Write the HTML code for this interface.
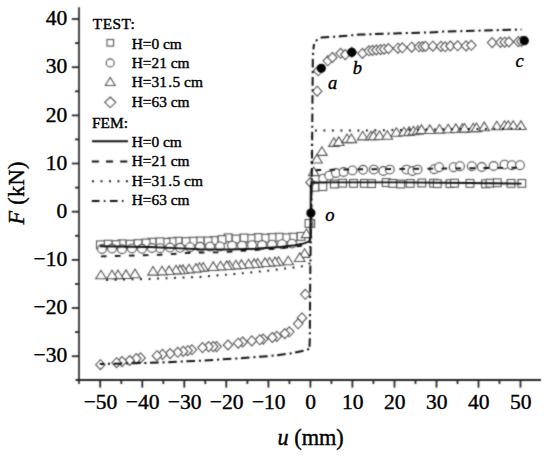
<!DOCTYPE html>
<html><head><meta charset="utf-8"><style>
html,body{margin:0;padding:0;background:#fff;}
body{width:550px;height:457px;overflow:hidden;}
svg{display:block;}
.t{font-family:"Liberation Serif",serif;fill:#000;stroke:#000;stroke-width:0.4px;}
.lg{stroke-width:0.4px;}
</style></head><body>
<svg width="550" height="457" viewBox="0 0 550 457">
<defs><filter id="bl" x="0" y="0" width="1" height="1" color-interpolation-filters="sRGB"><feConvolveMatrix order="3" kernelMatrix="1 2 1 2 10 2 1 2 1" edgeMode="duplicate"/></filter></defs>
<g filter="url(#bl)"><rect width="550" height="457" fill="#fff"/>
<line x1="79.0" y1="7.2" x2="79.0" y2="384" stroke="#333" stroke-width="1.8"/>
<line x1="75.5" y1="380.1" x2="541" y2="380.1" stroke="#262626" stroke-width="2"/>
<line x1="71.8" y1="356.2" x2="79.0" y2="356.2" stroke="#262626" stroke-width="1.8"/>
<line x1="75" y1="332.1" x2="79.0" y2="332.1" stroke="#262626" stroke-width="1.8"/>
<line x1="71.8" y1="308.0" x2="79.0" y2="308.0" stroke="#262626" stroke-width="1.8"/>
<line x1="75" y1="284.0" x2="79.0" y2="284.0" stroke="#262626" stroke-width="1.8"/>
<line x1="71.8" y1="259.9" x2="79.0" y2="259.9" stroke="#262626" stroke-width="1.8"/>
<line x1="75" y1="235.8" x2="79.0" y2="235.8" stroke="#262626" stroke-width="1.8"/>
<line x1="71.8" y1="211.7" x2="79.0" y2="211.7" stroke="#262626" stroke-width="1.8"/>
<line x1="75" y1="187.6" x2="79.0" y2="187.6" stroke="#262626" stroke-width="1.8"/>
<line x1="71.8" y1="163.5" x2="79.0" y2="163.5" stroke="#262626" stroke-width="1.8"/>
<line x1="75" y1="139.4" x2="79.0" y2="139.4" stroke="#262626" stroke-width="1.8"/>
<line x1="71.8" y1="115.4" x2="79.0" y2="115.4" stroke="#262626" stroke-width="1.8"/>
<line x1="75" y1="91.3" x2="79.0" y2="91.3" stroke="#262626" stroke-width="1.8"/>
<line x1="71.8" y1="67.2" x2="79.0" y2="67.2" stroke="#262626" stroke-width="1.8"/>
<line x1="75" y1="43.1" x2="79.0" y2="43.1" stroke="#262626" stroke-width="1.8"/>
<line x1="71.8" y1="19.0" x2="79.0" y2="19.0" stroke="#262626" stroke-width="1.8"/>
<line x1="100.2" y1="380.1" x2="100.2" y2="387.6" stroke="#262626" stroke-width="1.8"/>
<line x1="121.3" y1="380.1" x2="121.3" y2="384" stroke="#262626" stroke-width="1.8"/>
<line x1="142.3" y1="380.1" x2="142.3" y2="387.6" stroke="#262626" stroke-width="1.8"/>
<line x1="163.3" y1="380.1" x2="163.3" y2="384" stroke="#262626" stroke-width="1.8"/>
<line x1="184.3" y1="380.1" x2="184.3" y2="387.6" stroke="#262626" stroke-width="1.8"/>
<line x1="205.3" y1="380.1" x2="205.3" y2="384" stroke="#262626" stroke-width="1.8"/>
<line x1="226.3" y1="380.1" x2="226.3" y2="387.6" stroke="#262626" stroke-width="1.8"/>
<line x1="247.4" y1="380.1" x2="247.4" y2="384" stroke="#262626" stroke-width="1.8"/>
<line x1="268.4" y1="380.1" x2="268.4" y2="387.6" stroke="#262626" stroke-width="1.8"/>
<line x1="289.4" y1="380.1" x2="289.4" y2="384" stroke="#262626" stroke-width="1.8"/>
<line x1="310.4" y1="380.1" x2="310.4" y2="387.6" stroke="#262626" stroke-width="1.8"/>
<line x1="331.4" y1="380.1" x2="331.4" y2="384" stroke="#262626" stroke-width="1.8"/>
<line x1="352.4" y1="380.1" x2="352.4" y2="387.6" stroke="#262626" stroke-width="1.8"/>
<line x1="373.4" y1="380.1" x2="373.4" y2="384" stroke="#262626" stroke-width="1.8"/>
<line x1="394.5" y1="380.1" x2="394.5" y2="387.6" stroke="#262626" stroke-width="1.8"/>
<line x1="415.5" y1="380.1" x2="415.5" y2="384" stroke="#262626" stroke-width="1.8"/>
<line x1="436.5" y1="380.1" x2="436.5" y2="387.6" stroke="#262626" stroke-width="1.8"/>
<line x1="457.5" y1="380.1" x2="457.5" y2="384" stroke="#262626" stroke-width="1.8"/>
<line x1="478.5" y1="380.1" x2="478.5" y2="387.6" stroke="#262626" stroke-width="1.8"/>
<line x1="499.5" y1="380.1" x2="499.5" y2="384" stroke="#262626" stroke-width="1.8"/>
<line x1="520.5" y1="380.1" x2="520.5" y2="387.6" stroke="#262626" stroke-width="1.8"/>
<rect x="306.9" y="219.5" width="7.8" height="7.8" fill="#fff" stroke="#555" stroke-width="1.1"/>
<rect x="305.1" y="219.5" width="7.8" height="7.8" fill="#fff" stroke="#555" stroke-width="1.1"/>
<rect x="297.1" y="232.5" width="7.8" height="7.8" fill="#fff" stroke="#555" stroke-width="1.1"/>
<rect x="289.1" y="233.3" width="7.8" height="7.8" fill="#fff" stroke="#555" stroke-width="1.1"/>
<rect x="282.1" y="233.9" width="7.8" height="7.8" fill="#fff" stroke="#555" stroke-width="1.1"/>
<rect x="275.1" y="233.3" width="7.8" height="7.8" fill="#fff" stroke="#555" stroke-width="1.1"/>
<rect x="268.1" y="233.7" width="7.8" height="7.8" fill="#fff" stroke="#555" stroke-width="1.1"/>
<rect x="261.1" y="234.3" width="7.8" height="7.8" fill="#fff" stroke="#555" stroke-width="1.1"/>
<rect x="254.1" y="233.7" width="7.8" height="7.8" fill="#fff" stroke="#555" stroke-width="1.1"/>
<rect x="247.1" y="234.7" width="7.8" height="7.8" fill="#fff" stroke="#555" stroke-width="1.1"/>
<rect x="240.1" y="234.1" width="7.8" height="7.8" fill="#fff" stroke="#555" stroke-width="1.1"/>
<rect x="232.1" y="235.1" width="7.8" height="7.8" fill="#fff" stroke="#555" stroke-width="1.1"/>
<rect x="224.1" y="233.9" width="7.8" height="7.8" fill="#fff" stroke="#555" stroke-width="1.1"/>
<rect x="218.1" y="235.7" width="7.8" height="7.8" fill="#fff" stroke="#555" stroke-width="1.1"/>
<rect x="210.1" y="236.7" width="7.8" height="7.8" fill="#fff" stroke="#555" stroke-width="1.1"/>
<rect x="204.1" y="237.1" width="7.8" height="7.8" fill="#fff" stroke="#555" stroke-width="1.1"/>
<rect x="196.1" y="237.1" width="7.8" height="7.8" fill="#fff" stroke="#555" stroke-width="1.1"/>
<rect x="189.1" y="237.3" width="7.8" height="7.8" fill="#fff" stroke="#555" stroke-width="1.1"/>
<rect x="182.1" y="237.7" width="7.8" height="7.8" fill="#fff" stroke="#555" stroke-width="1.1"/>
<rect x="174.1" y="237.3" width="7.8" height="7.8" fill="#fff" stroke="#555" stroke-width="1.1"/>
<rect x="168.1" y="237.9" width="7.8" height="7.8" fill="#fff" stroke="#555" stroke-width="1.1"/>
<rect x="162.1" y="238.5" width="7.8" height="7.8" fill="#fff" stroke="#555" stroke-width="1.1"/>
<rect x="156.1" y="237.9" width="7.8" height="7.8" fill="#fff" stroke="#555" stroke-width="1.1"/>
<rect x="148.1" y="238.3" width="7.8" height="7.8" fill="#fff" stroke="#555" stroke-width="1.1"/>
<rect x="142.1" y="239.1" width="7.8" height="7.8" fill="#fff" stroke="#555" stroke-width="1.1"/>
<rect x="134.1" y="239.7" width="7.8" height="7.8" fill="#fff" stroke="#555" stroke-width="1.1"/>
<rect x="126.1" y="240.3" width="7.8" height="7.8" fill="#fff" stroke="#555" stroke-width="1.1"/>
<rect x="118.1" y="239.9" width="7.8" height="7.8" fill="#fff" stroke="#555" stroke-width="1.1"/>
<rect x="112.1" y="240.7" width="7.8" height="7.8" fill="#fff" stroke="#555" stroke-width="1.1"/>
<rect x="104.1" y="240.3" width="7.8" height="7.8" fill="#fff" stroke="#555" stroke-width="1.1"/>
<rect x="96.5" y="240.9" width="7.8" height="7.8" fill="#fff" stroke="#555" stroke-width="1.1"/>
<rect x="311.1" y="183.3" width="7.8" height="7.8" fill="#fff" stroke="#555" stroke-width="1.1"/>
<rect x="318.9" y="182.7" width="7.8" height="7.8" fill="#fff" stroke="#555" stroke-width="1.1"/>
<rect x="330.5" y="180.1" width="7.8" height="7.8" fill="#fff" stroke="#555" stroke-width="1.1"/>
<rect x="338.7" y="179.3" width="7.8" height="7.8" fill="#fff" stroke="#555" stroke-width="1.1"/>
<rect x="349.6" y="179.5" width="7.8" height="7.8" fill="#fff" stroke="#555" stroke-width="1.1"/>
<rect x="360.5" y="179.5" width="7.8" height="7.8" fill="#fff" stroke="#555" stroke-width="1.1"/>
<rect x="367.7" y="179.7" width="7.8" height="7.8" fill="#fff" stroke="#555" stroke-width="1.1"/>
<rect x="382.3" y="178.7" width="7.8" height="7.8" fill="#fff" stroke="#555" stroke-width="1.1"/>
<rect x="388.8" y="179.5" width="7.8" height="7.8" fill="#fff" stroke="#555" stroke-width="1.1"/>
<rect x="396.8" y="180.1" width="7.8" height="7.8" fill="#fff" stroke="#555" stroke-width="1.1"/>
<rect x="406.3" y="179.5" width="7.8" height="7.8" fill="#fff" stroke="#555" stroke-width="1.1"/>
<rect x="417.9" y="179.1" width="7.8" height="7.8" fill="#fff" stroke="#555" stroke-width="1.1"/>
<rect x="429.7" y="179.3" width="7.8" height="7.8" fill="#fff" stroke="#555" stroke-width="1.1"/>
<rect x="433.4" y="179.7" width="7.8" height="7.8" fill="#fff" stroke="#555" stroke-width="1.1"/>
<rect x="446.1" y="179.7" width="7.8" height="7.8" fill="#fff" stroke="#555" stroke-width="1.1"/>
<rect x="450.6" y="179.3" width="7.8" height="7.8" fill="#fff" stroke="#555" stroke-width="1.1"/>
<rect x="466.1" y="179.5" width="7.8" height="7.8" fill="#fff" stroke="#555" stroke-width="1.1"/>
<rect x="481.6" y="179.9" width="7.8" height="7.8" fill="#fff" stroke="#555" stroke-width="1.1"/>
<rect x="486.1" y="179.3" width="7.8" height="7.8" fill="#fff" stroke="#555" stroke-width="1.1"/>
<rect x="493.4" y="178.9" width="7.8" height="7.8" fill="#fff" stroke="#555" stroke-width="1.1"/>
<rect x="507.1" y="179.5" width="7.8" height="7.8" fill="#fff" stroke="#555" stroke-width="1.1"/>
<rect x="517.9" y="179.5" width="7.8" height="7.8" fill="#fff" stroke="#555" stroke-width="1.1"/>
<circle cx="292.0" cy="243.6" r="4.4" fill="#fff" stroke="#555" stroke-width="1.1"/>
<circle cx="282.0" cy="244.2" r="4.4" fill="#fff" stroke="#555" stroke-width="1.1"/>
<circle cx="272.0" cy="244.6" r="4.4" fill="#fff" stroke="#555" stroke-width="1.1"/>
<circle cx="262.0" cy="245.0" r="4.4" fill="#fff" stroke="#555" stroke-width="1.1"/>
<circle cx="252.0" cy="245.2" r="4.4" fill="#fff" stroke="#555" stroke-width="1.1"/>
<circle cx="242.0" cy="245.6" r="4.4" fill="#fff" stroke="#555" stroke-width="1.1"/>
<circle cx="232.0" cy="245.6" r="4.4" fill="#fff" stroke="#555" stroke-width="1.1"/>
<circle cx="220.0" cy="246.4" r="4.4" fill="#fff" stroke="#555" stroke-width="1.1"/>
<circle cx="210.0" cy="246.6" r="4.4" fill="#fff" stroke="#555" stroke-width="1.1"/>
<circle cx="200.0" cy="246.8" r="4.4" fill="#fff" stroke="#555" stroke-width="1.1"/>
<circle cx="190.0" cy="247.2" r="4.4" fill="#fff" stroke="#555" stroke-width="1.1"/>
<circle cx="180.0" cy="247.8" r="4.4" fill="#fff" stroke="#555" stroke-width="1.1"/>
<circle cx="170.0" cy="247.6" r="4.4" fill="#fff" stroke="#555" stroke-width="1.1"/>
<circle cx="160.0" cy="248.2" r="4.4" fill="#fff" stroke="#555" stroke-width="1.1"/>
<circle cx="152.0" cy="248.0" r="4.4" fill="#fff" stroke="#555" stroke-width="1.1"/>
<circle cx="142.0" cy="248.8" r="4.4" fill="#fff" stroke="#555" stroke-width="1.1"/>
<circle cx="132.0" cy="248.4" r="4.4" fill="#fff" stroke="#555" stroke-width="1.1"/>
<circle cx="122.0" cy="249.2" r="4.4" fill="#fff" stroke="#555" stroke-width="1.1"/>
<circle cx="112.0" cy="248.6" r="4.4" fill="#fff" stroke="#555" stroke-width="1.1"/>
<circle cx="102.0" cy="249.0" r="4.4" fill="#fff" stroke="#555" stroke-width="1.1"/>
<circle cx="323.2" cy="178.6" r="4.4" fill="#fff" stroke="#555" stroke-width="1.1"/>
<circle cx="329.2" cy="175.6" r="4.4" fill="#fff" stroke="#555" stroke-width="1.1"/>
<circle cx="336.0" cy="173.0" r="4.4" fill="#fff" stroke="#555" stroke-width="1.1"/>
<circle cx="343.6" cy="172.0" r="4.4" fill="#fff" stroke="#555" stroke-width="1.1"/>
<circle cx="352.4" cy="170.4" r="4.4" fill="#fff" stroke="#555" stroke-width="1.1"/>
<circle cx="363.1" cy="169.8" r="4.4" fill="#fff" stroke="#555" stroke-width="1.1"/>
<circle cx="373.8" cy="169.6" r="4.4" fill="#fff" stroke="#555" stroke-width="1.1"/>
<circle cx="383.3" cy="171.0" r="4.4" fill="#fff" stroke="#555" stroke-width="1.1"/>
<circle cx="389.8" cy="169.6" r="4.4" fill="#fff" stroke="#555" stroke-width="1.1"/>
<circle cx="406.5" cy="169.6" r="4.4" fill="#fff" stroke="#555" stroke-width="1.1"/>
<circle cx="412.4" cy="171.0" r="4.4" fill="#fff" stroke="#555" stroke-width="1.1"/>
<circle cx="417.5" cy="169.6" r="4.4" fill="#fff" stroke="#555" stroke-width="1.1"/>
<circle cx="434.2" cy="169.2" r="4.4" fill="#fff" stroke="#555" stroke-width="1.1"/>
<circle cx="439.1" cy="167.2" r="4.4" fill="#fff" stroke="#555" stroke-width="1.1"/>
<circle cx="453.6" cy="167.2" r="4.4" fill="#fff" stroke="#555" stroke-width="1.1"/>
<circle cx="460.0" cy="166.2" r="4.4" fill="#fff" stroke="#555" stroke-width="1.1"/>
<circle cx="471.8" cy="166.2" r="4.4" fill="#fff" stroke="#555" stroke-width="1.1"/>
<circle cx="481.8" cy="167.0" r="4.4" fill="#fff" stroke="#555" stroke-width="1.1"/>
<circle cx="493.6" cy="166.0" r="4.4" fill="#fff" stroke="#555" stroke-width="1.1"/>
<circle cx="504.5" cy="164.6" r="4.4" fill="#fff" stroke="#555" stroke-width="1.1"/>
<circle cx="511.8" cy="165.2" r="4.4" fill="#fff" stroke="#555" stroke-width="1.1"/>
<circle cx="520.0" cy="165.2" r="4.4" fill="#fff" stroke="#555" stroke-width="1.1"/>
<path d="M306.5,229.0 L311.8,237.6 L301.2,237.6Z" fill="#fff" stroke="#555" stroke-width="1.1" stroke-linejoin="miter"/>
<path d="M304.6,248.8 L309.9,257.4 L299.3,257.4Z" fill="#fff" stroke="#555" stroke-width="1.1" stroke-linejoin="miter"/>
<path d="M299.7,252.9 L305.0,261.5 L294.4,261.5Z" fill="#fff" stroke="#555" stroke-width="1.1" stroke-linejoin="miter"/>
<path d="M288.2,256.2 L293.5,264.8 L282.9,264.8Z" fill="#fff" stroke="#555" stroke-width="1.1" stroke-linejoin="miter"/>
<path d="M278.6,256.7 L283.9,265.3 L273.3,265.3Z" fill="#fff" stroke="#555" stroke-width="1.1" stroke-linejoin="miter"/>
<path d="M275.0,257.1 L280.3,265.7 L269.7,265.7Z" fill="#fff" stroke="#555" stroke-width="1.1" stroke-linejoin="miter"/>
<path d="M269.5,257.5 L274.8,266.1 L264.2,266.1Z" fill="#fff" stroke="#555" stroke-width="1.1" stroke-linejoin="miter"/>
<path d="M265.0,257.9 L270.3,266.5 L259.7,266.5Z" fill="#fff" stroke="#555" stroke-width="1.1" stroke-linejoin="miter"/>
<path d="M257.7,258.5 L263.0,267.1 L252.4,267.1Z" fill="#fff" stroke="#555" stroke-width="1.1" stroke-linejoin="miter"/>
<path d="M254.1,258.9 L259.4,267.5 L248.8,267.5Z" fill="#fff" stroke="#555" stroke-width="1.1" stroke-linejoin="miter"/>
<path d="M248.6,259.3 L253.9,267.9 L243.3,267.9Z" fill="#fff" stroke="#555" stroke-width="1.1" stroke-linejoin="miter"/>
<path d="M241.4,259.9 L246.7,268.5 L236.1,268.5Z" fill="#fff" stroke="#555" stroke-width="1.1" stroke-linejoin="miter"/>
<path d="M235.9,260.3 L241.2,268.9 L230.6,268.9Z" fill="#fff" stroke="#555" stroke-width="1.1" stroke-linejoin="miter"/>
<path d="M229.5,260.7 L234.8,269.3 L224.2,269.3Z" fill="#fff" stroke="#555" stroke-width="1.1" stroke-linejoin="miter"/>
<path d="M226.8,260.9 L232.1,269.5 L221.5,269.5Z" fill="#fff" stroke="#555" stroke-width="1.1" stroke-linejoin="miter"/>
<path d="M220.5,261.3 L225.8,269.9 L215.2,269.9Z" fill="#fff" stroke="#555" stroke-width="1.1" stroke-linejoin="miter"/>
<path d="M213.2,261.9 L218.5,270.5 L207.9,270.5Z" fill="#fff" stroke="#555" stroke-width="1.1" stroke-linejoin="miter"/>
<path d="M203.2,262.5 L208.5,271.1 L197.9,271.1Z" fill="#fff" stroke="#555" stroke-width="1.1" stroke-linejoin="miter"/>
<path d="M199.5,262.7 L204.8,271.3 L194.2,271.3Z" fill="#fff" stroke="#555" stroke-width="1.1" stroke-linejoin="miter"/>
<path d="M196.0,263.5 L201.3,272.1 L190.7,272.1Z" fill="#fff" stroke="#555" stroke-width="1.1" stroke-linejoin="miter"/>
<path d="M189.0,264.3 L194.3,272.9 L183.7,272.9Z" fill="#fff" stroke="#555" stroke-width="1.1" stroke-linejoin="miter"/>
<path d="M183.0,264.9 L188.3,273.5 L177.7,273.5Z" fill="#fff" stroke="#555" stroke-width="1.1" stroke-linejoin="miter"/>
<path d="M180.0,265.1 L185.3,273.7 L174.7,273.7Z" fill="#fff" stroke="#555" stroke-width="1.1" stroke-linejoin="miter"/>
<path d="M176.0,265.3 L181.3,273.9 L170.7,273.9Z" fill="#fff" stroke="#555" stroke-width="1.1" stroke-linejoin="miter"/>
<path d="M169.0,265.9 L174.3,274.5 L163.7,274.5Z" fill="#fff" stroke="#555" stroke-width="1.1" stroke-linejoin="miter"/>
<path d="M162.0,266.3 L167.3,274.9 L156.7,274.9Z" fill="#fff" stroke="#555" stroke-width="1.1" stroke-linejoin="miter"/>
<path d="M153.0,266.5 L158.3,275.1 L147.7,275.1Z" fill="#fff" stroke="#555" stroke-width="1.1" stroke-linejoin="miter"/>
<path d="M135.0,269.1 L140.3,277.7 L129.7,277.7Z" fill="#fff" stroke="#555" stroke-width="1.1" stroke-linejoin="miter"/>
<path d="M126.0,269.9 L131.3,278.5 L120.7,278.5Z" fill="#fff" stroke="#555" stroke-width="1.1" stroke-linejoin="miter"/>
<path d="M118.0,270.0 L123.3,278.6 L112.7,278.6Z" fill="#fff" stroke="#555" stroke-width="1.1" stroke-linejoin="miter"/>
<path d="M112.0,270.2 L117.3,278.8 L106.7,278.8Z" fill="#fff" stroke="#555" stroke-width="1.1" stroke-linejoin="miter"/>
<path d="M101.0,270.2 L106.3,278.8 L95.7,278.8Z" fill="#fff" stroke="#555" stroke-width="1.1" stroke-linejoin="miter"/>
<path d="M313.8,167.0 L319.1,175.6 L308.5,175.6Z" fill="#fff" stroke="#555" stroke-width="1.1" stroke-linejoin="miter"/>
<path d="M317.0,154.4 L322.3,163.0 L311.7,163.0Z" fill="#fff" stroke="#555" stroke-width="1.1" stroke-linejoin="miter"/>
<path d="M321.9,146.8 L327.2,155.4 L316.6,155.4Z" fill="#fff" stroke="#555" stroke-width="1.1" stroke-linejoin="miter"/>
<path d="M333.9,137.8 L339.2,146.4 L328.6,146.4Z" fill="#fff" stroke="#555" stroke-width="1.1" stroke-linejoin="miter"/>
<path d="M338.8,136.9 L344.1,145.5 L333.5,145.5Z" fill="#fff" stroke="#555" stroke-width="1.1" stroke-linejoin="miter"/>
<path d="M347.0,134.0 L352.3,142.6 L341.7,142.6Z" fill="#fff" stroke="#555" stroke-width="1.1" stroke-linejoin="miter"/>
<path d="M351.4,134.0 L356.7,142.6 L346.1,142.6Z" fill="#fff" stroke="#555" stroke-width="1.1" stroke-linejoin="miter"/>
<path d="M362.7,131.3 L368.0,139.9 L357.4,139.9Z" fill="#fff" stroke="#555" stroke-width="1.1" stroke-linejoin="miter"/>
<path d="M370.9,131.2 L376.2,139.8 L365.6,139.8Z" fill="#fff" stroke="#555" stroke-width="1.1" stroke-linejoin="miter"/>
<path d="M373.6,131.1 L378.9,139.7 L368.3,139.7Z" fill="#fff" stroke="#555" stroke-width="1.1" stroke-linejoin="miter"/>
<path d="M379.5,130.9 L384.8,139.5 L374.2,139.5Z" fill="#fff" stroke="#555" stroke-width="1.1" stroke-linejoin="miter"/>
<path d="M387.3,130.7 L392.6,139.3 L382.0,139.3Z" fill="#fff" stroke="#555" stroke-width="1.1" stroke-linejoin="miter"/>
<path d="M396.4,127.7 L401.7,136.3 L391.1,136.3Z" fill="#fff" stroke="#555" stroke-width="1.1" stroke-linejoin="miter"/>
<path d="M404.0,127.2 L409.3,135.8 L398.7,135.8Z" fill="#fff" stroke="#555" stroke-width="1.1" stroke-linejoin="miter"/>
<path d="M409.1,126.9 L414.4,135.5 L403.8,135.5Z" fill="#fff" stroke="#555" stroke-width="1.1" stroke-linejoin="miter"/>
<path d="M413.5,126.2 L418.8,134.8 L408.2,134.8Z" fill="#fff" stroke="#555" stroke-width="1.1" stroke-linejoin="miter"/>
<path d="M417.8,125.7 L423.1,134.3 L412.5,134.3Z" fill="#fff" stroke="#555" stroke-width="1.1" stroke-linejoin="miter"/>
<path d="M421.5,124.9 L426.8,133.5 L416.2,133.5Z" fill="#fff" stroke="#555" stroke-width="1.1" stroke-linejoin="miter"/>
<path d="M429.8,124.9 L435.1,133.5 L424.5,133.5Z" fill="#fff" stroke="#555" stroke-width="1.1" stroke-linejoin="miter"/>
<path d="M439.5,124.5 L444.8,133.1 L434.2,133.1Z" fill="#fff" stroke="#555" stroke-width="1.1" stroke-linejoin="miter"/>
<path d="M448.2,124.2 L453.5,132.8 L442.9,132.8Z" fill="#fff" stroke="#555" stroke-width="1.1" stroke-linejoin="miter"/>
<path d="M455.8,123.9 L461.1,132.5 L450.5,132.5Z" fill="#fff" stroke="#555" stroke-width="1.1" stroke-linejoin="miter"/>
<path d="M462.4,123.7 L467.7,132.3 L457.1,132.3Z" fill="#fff" stroke="#555" stroke-width="1.1" stroke-linejoin="miter"/>
<path d="M464.5,123.5 L469.8,132.1 L459.2,132.1Z" fill="#fff" stroke="#555" stroke-width="1.1" stroke-linejoin="miter"/>
<path d="M473.3,123.2 L478.6,131.8 L468.0,131.8Z" fill="#fff" stroke="#555" stroke-width="1.1" stroke-linejoin="miter"/>
<path d="M476.5,123.0 L481.8,131.6 L471.2,131.6Z" fill="#fff" stroke="#555" stroke-width="1.1" stroke-linejoin="miter"/>
<path d="M484.2,122.1 L489.5,130.7 L478.9,130.7Z" fill="#fff" stroke="#555" stroke-width="1.1" stroke-linejoin="miter"/>
<path d="M496.8,121.2 L502.1,129.8 L491.5,129.8Z" fill="#fff" stroke="#555" stroke-width="1.1" stroke-linejoin="miter"/>
<path d="M504.5,120.7 L509.8,129.3 L499.2,129.3Z" fill="#fff" stroke="#555" stroke-width="1.1" stroke-linejoin="miter"/>
<path d="M508.2,120.7 L513.5,129.3 L502.9,129.3Z" fill="#fff" stroke="#555" stroke-width="1.1" stroke-linejoin="miter"/>
<path d="M513.2,120.7 L518.5,129.3 L507.9,129.3Z" fill="#fff" stroke="#555" stroke-width="1.1" stroke-linejoin="miter"/>
<path d="M520.9,120.9 L526.2,129.5 L515.6,129.5Z" fill="#fff" stroke="#555" stroke-width="1.1" stroke-linejoin="miter"/>
<path d="M305.3,289.3 L310.1,294.3 L305.3,299.3 L300.6,294.3Z" fill="#fff" stroke="#555" stroke-width="1.1"/>
<path d="M302.0,312.9 L306.8,317.9 L302.0,322.9 L297.2,317.9Z" fill="#fff" stroke="#555" stroke-width="1.1"/>
<path d="M298.1,318.8 L302.9,323.8 L298.1,328.8 L293.4,323.8Z" fill="#fff" stroke="#555" stroke-width="1.1"/>
<path d="M289.3,326.8 L294.1,331.8 L289.3,336.8 L284.6,331.8Z" fill="#fff" stroke="#555" stroke-width="1.1"/>
<path d="M284.8,328.6 L289.6,333.6 L284.8,338.6 L280.1,333.6Z" fill="#fff" stroke="#555" stroke-width="1.1"/>
<path d="M276.8,331.4 L281.6,336.4 L276.8,341.4 L272.1,336.4Z" fill="#fff" stroke="#555" stroke-width="1.1"/>
<path d="M272.3,332.5 L277.1,337.5 L272.3,342.5 L267.6,337.5Z" fill="#fff" stroke="#555" stroke-width="1.1"/>
<path d="M263.2,334.1 L267.9,339.1 L263.2,344.1 L258.4,339.1Z" fill="#fff" stroke="#555" stroke-width="1.1"/>
<path d="M259.8,334.8 L264.6,339.8 L259.8,344.8 L255.1,339.8Z" fill="#fff" stroke="#555" stroke-width="1.1"/>
<path d="M251.8,335.9 L256.6,340.9 L251.8,345.9 L247.1,340.9Z" fill="#fff" stroke="#555" stroke-width="1.1"/>
<path d="M242.7,337.0 L247.4,342.0 L242.7,347.0 L237.9,342.0Z" fill="#fff" stroke="#555" stroke-width="1.1"/>
<path d="M238.2,338.2 L242.9,343.2 L238.2,348.2 L233.4,343.2Z" fill="#fff" stroke="#555" stroke-width="1.1"/>
<path d="M228.0,340.0 L232.8,345.0 L228.0,350.0 L223.2,345.0Z" fill="#fff" stroke="#555" stroke-width="1.1"/>
<path d="M216.6,341.6 L221.3,346.6 L216.6,351.6 L211.8,346.6Z" fill="#fff" stroke="#555" stroke-width="1.1"/>
<path d="M213.2,341.6 L217.9,346.6 L213.2,351.6 L208.4,346.6Z" fill="#fff" stroke="#555" stroke-width="1.1"/>
<path d="M208.6,341.6 L213.3,346.6 L208.6,351.6 L203.8,346.6Z" fill="#fff" stroke="#555" stroke-width="1.1"/>
<path d="M202.5,342.6 L207.2,347.6 L202.5,352.6 L197.8,347.6Z" fill="#fff" stroke="#555" stroke-width="1.1"/>
<path d="M191.9,344.8 L196.7,349.8 L191.9,354.8 L187.2,349.8Z" fill="#fff" stroke="#555" stroke-width="1.1"/>
<path d="M187.6,345.7 L192.3,350.7 L187.6,355.7 L182.8,350.7Z" fill="#fff" stroke="#555" stroke-width="1.1"/>
<path d="M183.2,346.4 L187.9,351.4 L183.2,356.4 L178.4,351.4Z" fill="#fff" stroke="#555" stroke-width="1.1"/>
<path d="M177.7,347.3 L182.4,352.3 L177.7,357.3 L172.9,352.3Z" fill="#fff" stroke="#555" stroke-width="1.1"/>
<path d="M170.1,348.6 L174.8,353.6 L170.1,358.6 L165.3,353.6Z" fill="#fff" stroke="#555" stroke-width="1.1"/>
<path d="M162.5,349.4 L167.2,354.4 L162.5,359.4 L157.8,354.4Z" fill="#fff" stroke="#555" stroke-width="1.1"/>
<path d="M157.0,350.7 L161.8,355.7 L157.0,360.7 L152.2,355.7Z" fill="#fff" stroke="#555" stroke-width="1.1"/>
<path d="M140.6,352.9 L145.3,357.9 L140.6,362.9 L135.8,357.9Z" fill="#fff" stroke="#555" stroke-width="1.1"/>
<path d="M136.3,353.6 L141.1,358.6 L136.3,363.6 L131.6,358.6Z" fill="#fff" stroke="#555" stroke-width="1.1"/>
<path d="M129.7,355.5 L134.4,360.5 L129.7,365.5 L124.9,360.5Z" fill="#fff" stroke="#555" stroke-width="1.1"/>
<path d="M122.1,356.6 L126.8,361.6 L122.1,366.6 L117.3,361.6Z" fill="#fff" stroke="#555" stroke-width="1.1"/>
<path d="M116.6,357.7 L121.3,362.7 L116.6,367.7 L111.8,362.7Z" fill="#fff" stroke="#555" stroke-width="1.1"/>
<path d="M100.4,359.7 L105.2,364.7 L100.4,369.7 L95.7,364.7Z" fill="#fff" stroke="#555" stroke-width="1.1"/>
<path d="M310.5,177.4 L315.2,182.4 L310.5,187.4 L305.8,182.4Z" fill="#fff" stroke="#555" stroke-width="1.1"/>
<path d="M317.2,86.2 L321.9,91.2 L317.2,96.2 L312.4,91.2Z" fill="#fff" stroke="#555" stroke-width="1.1"/>
<path d="M318.2,65.8 L322.9,70.8 L318.2,75.8 L313.4,70.8Z" fill="#fff" stroke="#555" stroke-width="1.1"/>
<path d="M327.8,55.8 L332.6,60.8 L327.8,65.8 L323.1,60.8Z" fill="#fff" stroke="#555" stroke-width="1.1"/>
<path d="M332.4,52.5 L337.1,57.5 L332.4,62.5 L327.6,57.5Z" fill="#fff" stroke="#555" stroke-width="1.1"/>
<path d="M340.7,48.3 L345.4,53.3 L340.7,58.3 L335.9,53.3Z" fill="#fff" stroke="#555" stroke-width="1.1"/>
<path d="M345.3,49.6 L350.1,54.6 L345.3,59.6 L340.6,54.6Z" fill="#fff" stroke="#555" stroke-width="1.1"/>
<path d="M351.8,47.3 L356.6,52.3 L351.8,57.3 L347.1,52.3Z" fill="#fff" stroke="#555" stroke-width="1.1"/>
<path d="M362.5,48.4 L367.2,53.4 L362.5,58.4 L357.8,53.4Z" fill="#fff" stroke="#555" stroke-width="1.1"/>
<path d="M368.9,45.8 L373.6,50.8 L368.9,55.8 L364.1,50.8Z" fill="#fff" stroke="#555" stroke-width="1.1"/>
<path d="M372.5,45.4 L377.2,50.4 L372.5,55.4 L367.8,50.4Z" fill="#fff" stroke="#555" stroke-width="1.1"/>
<path d="M376.3,45.0 L381.1,50.0 L376.3,55.0 L371.6,50.0Z" fill="#fff" stroke="#555" stroke-width="1.1"/>
<path d="M380.5,44.6 L385.2,49.6 L380.5,54.6 L375.8,49.6Z" fill="#fff" stroke="#555" stroke-width="1.1"/>
<path d="M384.1,44.2 L388.9,49.2 L384.1,54.2 L379.4,49.2Z" fill="#fff" stroke="#555" stroke-width="1.1"/>
<path d="M388.5,43.6 L393.2,48.6 L388.5,53.6 L383.8,48.6Z" fill="#fff" stroke="#555" stroke-width="1.1"/>
<path d="M397.9,43.2 L402.6,48.2 L397.9,53.2 L393.1,48.2Z" fill="#fff" stroke="#555" stroke-width="1.1"/>
<path d="M402.3,42.8 L407.1,47.8 L402.3,52.8 L397.6,47.8Z" fill="#fff" stroke="#555" stroke-width="1.1"/>
<path d="M411.7,42.2 L416.4,47.2 L411.7,52.2 L406.9,47.2Z" fill="#fff" stroke="#555" stroke-width="1.1"/>
<path d="M419.0,41.8 L423.8,46.8 L419.0,51.8 L414.2,46.8Z" fill="#fff" stroke="#555" stroke-width="1.1"/>
<path d="M422.6,41.6 L427.4,46.6 L422.6,51.6 L417.9,46.6Z" fill="#fff" stroke="#555" stroke-width="1.1"/>
<path d="M425.5,41.4 L430.2,46.4 L425.5,51.4 L420.8,46.4Z" fill="#fff" stroke="#555" stroke-width="1.1"/>
<path d="M432.8,41.2 L437.6,46.2 L432.8,51.2 L428.1,46.2Z" fill="#fff" stroke="#555" stroke-width="1.1"/>
<path d="M441.0,41.4 L445.8,46.4 L441.0,51.4 L436.2,46.4Z" fill="#fff" stroke="#555" stroke-width="1.1"/>
<path d="M445.2,41.8 L449.9,46.8 L445.2,51.8 L440.4,46.8Z" fill="#fff" stroke="#555" stroke-width="1.1"/>
<path d="M450.3,41.0 L455.1,46.0 L450.3,51.0 L445.6,46.0Z" fill="#fff" stroke="#555" stroke-width="1.1"/>
<path d="M457.7,40.8 L462.4,45.8 L457.7,50.8 L452.9,45.8Z" fill="#fff" stroke="#555" stroke-width="1.1"/>
<path d="M466.0,40.9 L470.8,45.9 L466.0,50.9 L461.2,45.9Z" fill="#fff" stroke="#555" stroke-width="1.1"/>
<path d="M471.3,40.3 L476.1,45.3 L471.3,50.3 L466.6,45.3Z" fill="#fff" stroke="#555" stroke-width="1.1"/>
<path d="M492.2,37.6 L496.9,42.6 L492.2,47.6 L487.4,42.6Z" fill="#fff" stroke="#555" stroke-width="1.1"/>
<path d="M500.5,37.4 L505.2,42.4 L500.5,47.4 L495.8,42.4Z" fill="#fff" stroke="#555" stroke-width="1.1"/>
<path d="M504.7,37.2 L509.4,42.2 L504.7,47.2 L499.9,42.2Z" fill="#fff" stroke="#555" stroke-width="1.1"/>
<path d="M508.9,37.0 L513.6,42.0 L508.9,47.0 L504.1,42.0Z" fill="#fff" stroke="#555" stroke-width="1.1"/>
<path d="M518.3,36.6 L523.0,41.6 L518.3,46.6 L513.5,41.6Z" fill="#fff" stroke="#555" stroke-width="1.1"/>
<path d="M521.5,36.4 L526.2,41.4 L521.5,46.4 L516.8,41.4Z" fill="#fff" stroke="#555" stroke-width="1.1"/>
<path d="M99.8,246.2 L150.0,247.0 L180.0,248.4 L200.0,249.2 L230.0,249.5 L255.0,248.7 L280.0,247.0 L295.0,245.2 L304.0,243.4 L309.5,241.4 L310.4,236.0 L310.5,222.0 L310.6,213.0 L310.7,195.0 L310.8,186.0 L312.0,182.5 L320.0,182.4 L400.0,182.4 L470.0,183.0 L521.5,183.6" fill="none" stroke="#111" stroke-width="1.9"/>
<path d="M99.8,256.4 L160.0,254.8 L190.0,252.8 L220.0,252.3 L250.0,250.3 L280.0,248.3 L300.0,246.0 L309.5,243.5 L310.5,230.0 L311.0,213.0 L311.3,190.0 L311.7,176.0" fill="none" stroke="#111" stroke-width="1.9" stroke-dasharray="5.6 8.4" stroke-dashoffset="12.90" />
<path d="M311.7,176.0 L312.2,171.5 L314.0,170.3 L320.0,170.0 L360.0,169.3 L440.0,168.6 L521.5,167.6" fill="none" stroke="#111" stroke-width="1.9" stroke-dasharray="5.6 8.4" stroke-dashoffset="5.81" />
<path d="M99.8,280.2 L150.0,278.9 L200.0,276.9 L240.0,273.5 L270.0,270.5 L285.7,268.4 L295.0,267.4 L303.0,266.1 L309.0,264.8 L310.0,262.0" fill="none" stroke="#111" stroke-width="2.0" stroke-dasharray="1.8 6.7" stroke-dashoffset="2.14" />
<path d="M310.0,262.0 L310.3,240.0 L311.0,213.0 L311.5,180.0 L312.0,134.0 L313.5,130.6 L360.0,130.5 L400.0,130.0 L420.0,129.6 L521.5,128.5" fill="none" stroke="#111" stroke-width="2.0" stroke-dasharray="1.8 6.7" stroke-dashoffset="2.77" />
<path d="M99.8,364.0 L130.0,363.4 L160.0,362.5 L200.0,360.7 L240.0,358.3 L270.0,356.0 L290.0,353.6 L300.0,351.4 L307.0,350.2 L309.4,348.0" fill="none" stroke="#111" stroke-width="2.0" stroke-dasharray="8.6 3.9 2.1 3.6" stroke-dashoffset="4.35" />
<path d="M309.4,348.0 L309.8,340.0 L310.2,280.0 L310.6,250.0 L311.4,212.0" fill="none" stroke="#111" stroke-width="2.0" stroke-dasharray="8.6 3.9 2.1 3.6" stroke-dashoffset="17.04" />
<path d="M311.4,212.0 L312.1,150.0 L312.4,108.0 L312.8,60.0 L313.3,50.0 L314.0,44.0" fill="none" stroke="#111" stroke-width="2.0" stroke-dasharray="8.6 3.9 2.1 3.6" stroke-dashoffset="1.04" />
<path d="M314.0,44.0 L315.0,41.6 L317.0,40.0 L319.5,38.4 L321.5,37.6 L340.0,36.3 L360.0,34.6 L400.0,33.2 L430.0,32.4 L443.0,31.6 L480.0,30.6 L510.0,29.8 L521.5,29.5" fill="none" stroke="#111" stroke-width="2.0" stroke-dasharray="8.6 3.9 2.1 3.6" stroke-dashoffset="8.83" />
<circle cx="310.9" cy="213.0" r="4.6" fill="#000"/>
<circle cx="321.3" cy="68.3" r="4.6" fill="#000"/>
<circle cx="351.8" cy="52.3" r="4.6" fill="#000"/>
<circle cx="524.3" cy="40.7" r="4.6" fill="#000"/>
<rect x="107.0" y="39.5" width="6.6" height="6.6" fill="#fff" stroke="#555" stroke-width="1.1"/>
<circle cx="110.2" cy="62.9" r="4.0" fill="#fff" stroke="#555" stroke-width="1.1"/>
<path d="M110.2,77.3 L115.2,85.5 L105.3,85.5Z" fill="#fff" stroke="#555" stroke-width="1.1" stroke-linejoin="miter"/>
<path d="M110.2,97.0 L115.8,102.3 L110.2,107.6 L104.7,102.3Z" fill="#fff" stroke="#555" stroke-width="1.1"/>
<line x1="92" y1="141.3" x2="128" y2="141.3" stroke="#111" stroke-width="1.9"/>
<line x1="91.8" y1="161.6" x2="127.4" y2="161.6" stroke="#111" stroke-width="2" stroke-dasharray="7.1 7.1"/>
<line x1="92.0" y1="181.2" x2="128" y2="181.2" stroke="#111" stroke-width="2" stroke-dasharray="1.9 6.6"/>
<line x1="91.8" y1="200.9" x2="128" y2="200.9" stroke="#111" stroke-width="2" stroke-dasharray="7.7 4.3 1.6 4.5"/>
</g>
<g >
<text x="67.2" y="362.3" text-anchor="end" class="t" font-size="21.5">−30</text>
<text x="67.2" y="314.1" text-anchor="end" class="t" font-size="21.5">−20</text>
<text x="67.2" y="266.0" text-anchor="end" class="t" font-size="21.5">−10</text>
<text x="67.2" y="217.8" text-anchor="end" class="t" font-size="21.5">0</text>
<text x="67.2" y="169.6" text-anchor="end" class="t" font-size="21.5">10</text>
<text x="67.2" y="121.5" text-anchor="end" class="t" font-size="21.5">20</text>
<text x="67.2" y="73.3" text-anchor="end" class="t" font-size="21.5">30</text>
<text x="67.2" y="25.1" text-anchor="end" class="t" font-size="21.5">40</text>
<text x="100.5" y="408.6" text-anchor="middle" class="t" font-size="21.5">−50</text>
<text x="142.6" y="408.6" text-anchor="middle" class="t" font-size="21.5">−40</text>
<text x="184.6" y="408.6" text-anchor="middle" class="t" font-size="21.5">−30</text>
<text x="226.6" y="408.6" text-anchor="middle" class="t" font-size="21.5">−20</text>
<text x="268.7" y="408.6" text-anchor="middle" class="t" font-size="21.5">−10</text>
<text x="310.7" y="408.6" text-anchor="middle" class="t" font-size="21.5">0</text>
<text x="352.7" y="408.6" text-anchor="middle" class="t" font-size="21.5">10</text>
<text x="394.8" y="408.6" text-anchor="middle" class="t" font-size="21.5">20</text>
<text x="436.8" y="408.6" text-anchor="middle" class="t" font-size="21.5">30</text>
<text x="478.8" y="408.6" text-anchor="middle" class="t" font-size="21.5">40</text>
<text x="520.8" y="408.6" text-anchor="middle" class="t" font-size="21.5">50</text>
<text transform="translate(23.6,224.6) rotate(-90)" class="t" font-size="22.3" letter-spacing="0.35"><tspan font-style="italic">F</tspan> (kN)</text>
<text x="277.5" y="445.4" class="t" font-size="22.3"><tspan font-style="italic">u</tspan> (mm)</text>
<text x="325.2" y="220.6" class="t" font-size="18.5" font-style="italic">o</text>
<text x="328.0" y="88.6" class="t" font-size="18.5" font-style="italic">a</text>
<text x="352.8" y="74.4" class="t" font-size="18.5" font-style="italic">b</text>
<text x="515.6" y="66.8" class="t" font-size="18.5" font-style="italic">c</text>
<text x="92.8" y="29.3" class="t lg" font-size="15.4" letter-spacing="0.45">TEST:</text>
<text x="131.7" y="48.9" class="t lg" font-size="15.4">H=0 cm</text>
<text x="131.7" y="68.3" class="t lg" font-size="15.4">H=21 cm</text>
<text x="131.7" y="87.4" class="t lg" font-size="15.4">H=31<tspan dx="1.3">.</tspan><tspan dx="0.5">5</tspan> cm</text>
<text x="131.7" y="106.6" class="t lg" font-size="15.4">H=63 cm</text>
<text x="92" y="127.5" class="t lg" font-size="15.4">FEM:</text>
<text x="131.7" y="146.6" class="t lg" font-size="15.4">H=0 cm</text>
<text x="131.7" y="166.1" class="t lg" font-size="15.4">H=21 cm</text>
<text x="131.7" y="185.7" class="t lg" font-size="15.4">H=31<tspan dx="1.3">.</tspan><tspan dx="0.5">5</tspan> cm</text>
<text x="131.7" y="205.3" class="t lg" font-size="15.4">H=63 cm</text>
</g>
</svg>
</body></html>
